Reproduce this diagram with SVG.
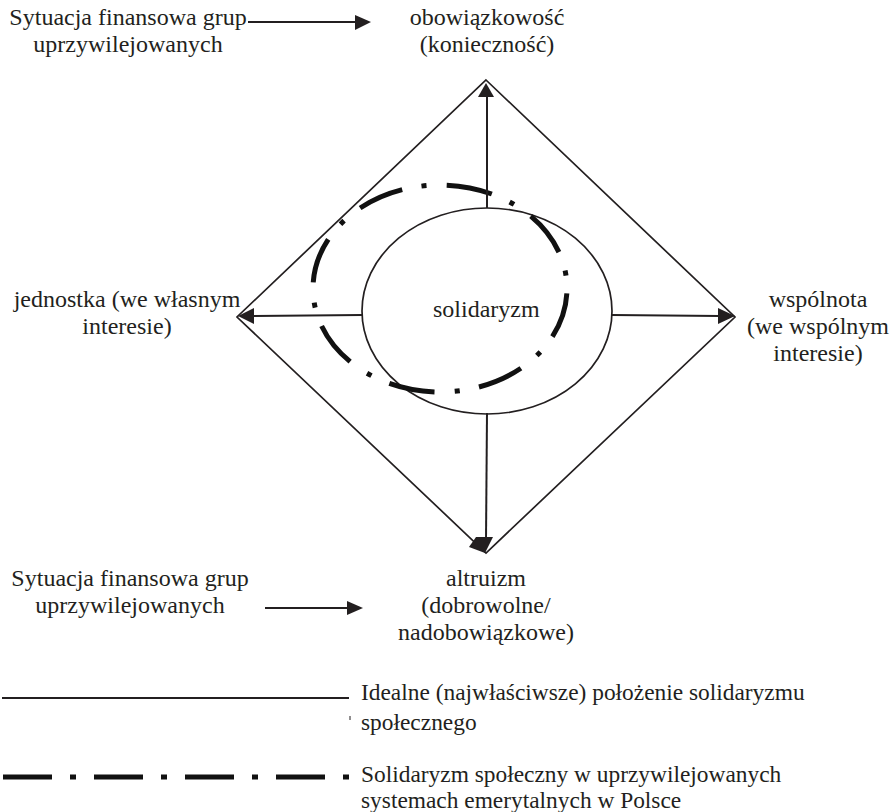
<svg xmlns="http://www.w3.org/2000/svg" width="891" height="812" viewBox="0 0 891 812">
<style>
text{font-family:"Liberation Serif","Times New Roman",serif;font-size:24px;fill:#231f20}
.c{text-anchor:middle}
.lg{font-size:23.4px}
.ln{stroke:#231f20;fill:none;stroke-width:1.7}
.ar{stroke:#231f20;fill:none;stroke-width:2}
.hd{fill:#231f20;stroke:none}
.dd{stroke:#111;fill:none;stroke-width:5;stroke-dasharray:46 19.5 5 20.5}
</style>
<rect width="891" height="812" fill="#fff"/>
<g id="diamond">
<polygon class="ln" points="486,80 735,317 486,553 237,317"/>
</g>
<g id="solidaryzm">
<ellipse class="ln" cx="487" cy="311" rx="125" ry="103" stroke-width="1.2"/>
<text x="433" y="317">solidaryzm</text>
</g>
<g id="uprzywilejowane">
<ellipse class="dd" cx="440" cy="288.5" rx="127" ry="103.5" stroke-dashoffset="86"/>
</g>
<g id="connectors">
<line class="ar" x1="487" y1="208" x2="487" y2="95"/>
<polygon class="hd" points="486,83 478,97 494,97"/>
<line class="ar" x1="362" y1="315" x2="252" y2="316"/>
<polygon class="hd" points="238,316 254,308 254,324"/>
<line class="ar" x1="612" y1="315" x2="720" y2="316"/>
<polygon class="hd" points="735,316 718,308 718,324"/>
<line class="ar" x1="487" y1="413" x2="486" y2="540"/>
<polygon class="hd" points="476,537 493,537 485,553 469,547"/>
<line class="ar" x1="248" y1="22" x2="357" y2="22"/>
<polygon class="hd" points="371,22 355,15 355,30"/>
<line class="ar" x1="265" y1="608" x2="349" y2="608"/>
<polygon class="hd" points="363,608 347,601 347,615"/>
</g>
<g id="top-left">
<text class="c" x="128" y="25">Sytuacja finansowa grup</text>
<text class="c" x="128" y="52">uprzywilejowanych</text>
</g>
<g id="obowiazkowosc">
<text class="c" x="487" y="25">obowiązkowość</text>
<text class="c" x="487" y="52">(konieczność)</text>
</g>
<g id="jednostka">
<text class="c" x="127" y="307">jednostka (we własnym</text>
<text class="c" x="127" y="334">interesie)</text>
</g>
<g id="wspolnota">
<text class="c" x="818" y="307">wspólnota</text>
<text class="c" x="818" y="334">(we wspólnym</text>
<text class="c" x="818" y="361">interesie)</text>
</g>
<g id="bottom-left">
<text class="c" x="130" y="586">Sytuacja finansowa grup</text>
<text class="c" x="130" y="613">uprzywilejowanych</text>
</g>
<g id="altruizm">
<text class="c" x="486" y="586">altruizm</text>
<text class="c" x="486" y="613">(dobrowolne/</text>
<text class="c" x="486" y="640">nadobowiązkowe)</text>
</g>
<g id="legend">
<line class="ar" x1="2" y1="698" x2="349" y2="698"/>
<line x1="350" y1="716" x2="350" y2="720" stroke="#231f20" stroke-width="1"/>
<text class="lg" x="361" y="700">Idealne (najwłaściwsze) położenie solidaryzmu</text>
<text class="lg" x="361" y="730">społecznego</text>
<line x1="3" y1="777" x2="349" y2="777" stroke="#111" stroke-width="5" stroke-dasharray="49 18 6 18"/>
<text class="lg" x="361" y="782">Solidaryzm społeczny w uprzywilejowanych</text>
<text class="lg" x="361" y="808">systemach emerytalnych w Polsce</text>
</g>
</svg>
